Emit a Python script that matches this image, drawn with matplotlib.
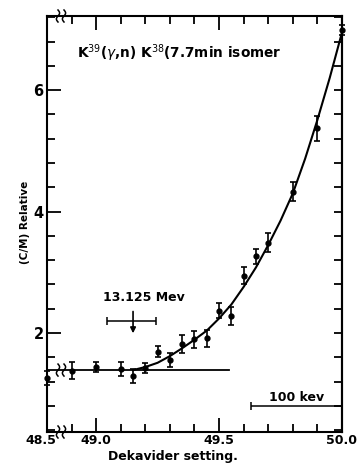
import numpy as np
import matplotlib
matplotlib.use('Agg')
import matplotlib.pyplot as plt
from matplotlib.transforms import ScaledTranslation, IdentityTransform

# measured points (dekavider setting, relative C/M, error)
setting = [48.5, 48.9, 49.0, 49.1, 49.15, 49.2, 49.25, 49.3, 49.35, 49.4,
           49.45, 49.5, 49.55, 49.6, 49.65, 49.7, 49.8, 49.9, 50.0]
ratio = [1.26, 1.38, 1.44, 1.41, 1.30, 1.42, 1.69, 1.56, 1.82, 1.90,
         1.91, 2.37, 2.28, 2.94, 3.26, 3.49, 4.33, 5.37, 6.99]
ratio_err = [0.115, 0.135, 0.09, 0.12, 0.115, 0.08, 0.09, 0.115, 0.15, 0.14,
             0.14, 0.12, 0.15, 0.14, 0.13, 0.16, 0.15, 0.21, 0.08]

# drawn curve
fit_setting = [49.15, 49.2, 49.25, 49.3, 49.35, 49.4, 49.45, 49.5, 49.55,
               49.6, 49.65, 49.7, 49.75, 49.8, 49.85, 49.9, 49.95, 50.0]
fit_ratio = [1.39, 1.44, 1.51, 1.62, 1.75, 1.89, 2.04, 2.24, 2.47,
             2.76, 3.08, 3.45, 3.85, 4.30, 4.87, 5.51, 6.20, 6.95]

# background level
flat_setting = [48.5, 49.54]
flat_ratio = [1.39, 1.39]

# threshold marker
thr_setting = 49.145
thr_ratio = 2.20
thr_err = 0.1

# 100 kev scale bar
bar_left, bar_right, bar_y = 49.63, 50.0, 0.79

y_major = [2, 4, 6]
y_minor = [0.4, 0.8, 1.2, 1.6, 2.4, 2.8, 3.2, 3.6, 4.4, 4.8, 5.2, 5.6,
           6.4, 6.8, 7.2]


# broken x axis: squeeze 48.5..48.85 into a small gap
def fwd(x):
    x = np.asarray(x, float)
    return np.where(x <= 48.5, x + 0.3,
                    np.where(x < 48.85, 48.8 + (x - 48.5) / 7.0, x))


def inv(x):
    x = np.asarray(x, float)
    return np.where(x <= 48.8, x - 0.3,
                    np.where(x < 48.85, 48.5 + (x - 48.8) * 7.0, x))


plt.rcParams['font.family'] = 'DejaVu Sans'

fig = plt.figure(figsize=(3.57, 4.66), dpi=100)
ax = fig.add_axes([47 / 357, 34 / 466, 295 / 357, 416 / 466])
ax.set_xscale('function', functions=(fwd, inv))

ax.errorbar(setting, ratio, yerr=ratio_err, fmt='o', ms=3.5, color='black',
            ecolor='black', elinewidth=1.2, capsize=2.5, capthick=1.2,
            clip_on=False, zorder=3)
ax.plot(fit_setting, fit_ratio, color='black', lw=1.5)
ax.plot(flat_setting, flat_ratio, color='black', lw=1.3)

# threshold arrow and spread
ax.errorbar([thr_setting], [thr_ratio], xerr=[thr_err], fmt='none',
            ecolor='black', elinewidth=1.1, capsize=3, capthick=1.1)
ax.annotate('', xy=(49.15, 1.95), xytext=(49.15, 2.40),
            arrowprops=dict(arrowstyle='-|>', color='black', lw=1.2,
                            mutation_scale=8))
ax.text(49.195, 2.59, '13.125 Mev', ha='center', va='center',
        fontsize=9, fontweight='bold')

# scale bar
mid = (bar_left + bar_right) / 2
ax.errorbar([mid], [bar_y], xerr=[(bar_right - bar_left) / 2], fmt='none',
            ecolor='black', elinewidth=1.1, capsize=3, capthick=1.1)
ax.text(mid, 0.93, '100 kev', ha='center', va='center',
        fontsize=9, fontweight='bold')

ax.text(0.102, 0.911, r'K$^{39}$($\gamma$,n) K$^{38}$(7.7min isomer',
        transform=ax.transAxes, fontsize=9.8, fontweight='bold', va='center')

ax.set_xlim(48.5, 50.0)
ax.set_ylim(0.37, 7.22)

ax.set_xticks([48.5, 49.0, 49.5, 50.0])
ax.set_xticklabels(['48.5', '49.0', '49.5', '50.0'])
ax.set_xticks([48.9, 49.1, 49.2, 49.3, 49.4, 49.6, 49.7, 49.8, 49.9],
              minor=True)
ax.set_yticks(y_major)
ax.set_yticks(y_minor, minor=True)
ax.tick_params(which='both', direction='in', top=True, right=False,
               width=1.3)
ax.tick_params(which='major', length=10)
ax.tick_params(which='minor', length=5.5)
ax.tick_params(axis='x', labelsize=9, pad=1.5)
ax.tick_params(axis='y', labelsize=10.5, pad=2.5)
for lab in ax.get_xticklabels() + ax.get_yticklabels():
    lab.set_fontweight('bold')
for s in ax.spines.values():
    s.set_linewidth(1.5)

# right side: short ticks only
sec = ax.secondary_yaxis('right')
sec.set_yticks(sorted(y_major + y_minor))
sec.tick_params(direction='in', length=5.5, width=1.3, labelright=False)
sec.spines['right'].set_linewidth(1.5)

lab0 = ax.get_xticklabels()[0]
lab0.set_transform(lab0.get_transform() +
                   ScaledTranslation(-0.06, 0, fig.dpi_scale_trans))

ax.set_xlabel('Dekavider setting.', fontsize=9, fontweight='bold')
ax.xaxis.set_label_coords(0.427, -0.043)
ax.set_ylabel('(C/M) Relative', fontsize=7.5, fontweight='bold')
ax.yaxis.set_label_coords(-0.058, 0.505)


# axis break squiggles
def squiggle(trans, x, y):
    cx, cy = trans.transform((x, y))
    t = np.linspace(-1, 1, 30)
    for dx in (-3, 3):
        ax.plot(cx + dx + 1.6 * np.sin(np.pi * t), cy + 6 * t, color='black',
                lw=1.1, transform=IdentityTransform(), clip_on=False)


bx = 14 / 295
squiggle(ax.transAxes, bx, 0)
squiggle(ax.transAxes, bx, 1)
squiggle(ax.get_yaxis_transform(), bx, flat_ratio[0])

fig.savefig('out.png', dpi=100)
